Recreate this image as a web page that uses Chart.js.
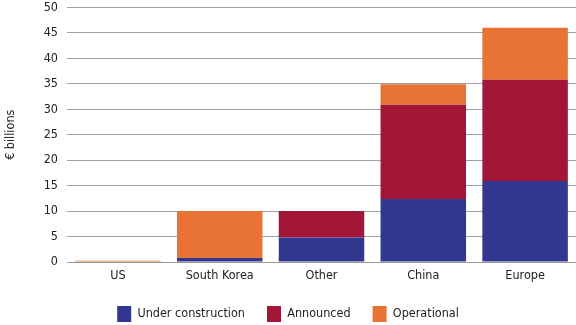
<!DOCTYPE html>
<html>
<head>
<meta charset="utf-8">
<script src="https://cdn.jsdelivr.net/npm/chart.js@4"></script>
<style>
  html, body { margin: 0; padding: 0; background: #fff; }
  #wrap { width: 576px; height: 325px; position: relative; }
</style>
</head>
<body>
<div id="wrap"><canvas id="chart"></canvas></div>
<script>
// Categories and series (€ billions)
const regions = ['US', 'South Korea', 'Other', 'China', 'Europe'];
const underConstruction = [0, 0.8, 4.8, 12.4, 15.9];
const announced = [0, 0, 5.2, 18.5, 19.9];
const operational = [0.25, 9.2, 0, 4.0, 10.2];

const FONT = '"DejaVu Sans Condensed", "Liberation Sans Narrow", sans-serif';

// give the bottom legend a fixed height so the plot area ends where the reference does
const legendHeight = {
  id: 'legendHeight',
  beforeLayout(chart) {
    const lg = chart.legend;
    if (lg && !lg._fixedFit) {
      const fit = lg.fit.bind(lg);
      lg.fit = function() {
        fit();
        this.height = 41;
      };
      lg._fixedFit = true;
    }
  }
};

const ctx = document.getElementById('chart').getContext('2d');

new Chart(ctx, {
  type: 'bar',
  data: {
    labels: regions,
    datasets: [
      { label: 'Under construction', data: underConstruction, backgroundColor: '#32378f' },
      { label: 'Announced', data: announced, backgroundColor: '#a21737' },
      { label: 'Operational', data: operational, backgroundColor: '#e87334' }
    ]
  },
  plugins: [legendHeight],
  options: {
    responsive: true,
    maintainAspectRatio: false,
    animation: false,
    layout: { padding: { top: 1, right: 0, bottom: 0, left: 0 } },
    datasets: {
      bar: { categoryPercentage: 1, barPercentage: 0.84, borderWidth: 0 }
    },
    plugins: {
      legend: {
        position: 'bottom',
        labels: {
          font: { family: FONT, size: 12.5 },
          color: '#222',
          boxWidth: 14,
          boxHeight: 16,
          padding: 22
        }
      },
      tooltip: { enabled: false }
    },
    scales: {
      x: {
        stacked: true,
        grid: { display: false, drawTicks: false },
        border: { color: '#999', width: 1 },
        ticks: { color: '#222', font: { family: FONT, size: 12.5 }, padding: 6 },
        afterFit: function(scale) { scale.height = 22; }
      },
      y: {
        stacked: true,
        min: 0,
        max: 50,
        // invisible tick marks give the label gap without padding the top of the plot
        grid: { color: '#a0a0a0', drawTicks: true, tickLength: 9, tickColor: 'rgba(0,0,0,0)' },
        border: { display: false },
        ticks: {
          stepSize: 5,
          color: '#222',
          font: { family: FONT, size: 12.5 },
          padding: 0
        },
        title: {
          display: true,
          text: '€ billions',
          color: '#222',
          font: { family: FONT, size: 12.5 },
          padding: { top: 3, bottom: 0 }
        },
        afterFit: function(scale) { scale.width = 67; }
      }
    }
  }
});
</script>
</body>
</html>
